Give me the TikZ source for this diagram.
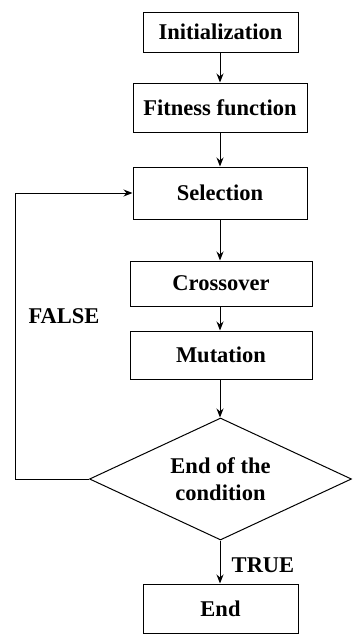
\documentclass[tikz,border=0pt]{standalone}
\usepackage{fontspec}
\setmainfont{Liberation Serif}
\usetikzlibrary{shapes.geometric,arrows.meta}
\begin{document}
\begin{tikzpicture}[x=1pt,y=-1pt,
  box/.style={draw,line width=1pt,rectangle,inner sep=0pt,font=\bfseries\fontsize{22.5}{27}\selectfont},
  cond/.style={draw,line width=1pt,diamond,aspect=2,inner sep=0pt,align=center,font=\bfseries\fontsize{22.5}{27}\selectfont},
  lbl/.style={inner sep=0pt,font=\bfseries\fontsize{22.5}{27}\selectfont},
  arr/.style={line width=1pt,-{Stealth[length=9pt,width=7pt]}}]
\useasboundingbox (0,0) rectangle (360,640);
\node[box,minimum width=155,minimum height=40] (init) at (220.5,32) {Initialization};
\node[box,minimum width=174,minimum height=49] (fit) at (220,107.5) {Fitness function};
\node[box,minimum width=174,minimum height=52] (sel) at (220,193) {Selection};
\node[box,minimum width=182,minimum height=45] (cross) at (221,283.5) {Crossover};
\node[box,minimum width=182,minimum height=48] (mut) at (221,355) {Mutation};
\node[cond,minimum width=262,minimum height=122] (dia) at (220.5,479) {End of the\\condition};
\node[box,minimum width=155,minimum height=49] (end) at (220.5,608.5) {End};
\node[lbl] (false) at (64,316) {FALSE};
\node[lbl] (true) at (263,565) {TRUE};
\coordinate (lp) at (15,479);
\draw[arr] (init.south -| 220,0) -- (fit.north -| 220,0);
\draw[arr] (fit.south -| 220,0) -- (sel.north -| 220,0);
\draw[arr] (sel.south -| 220,0) -- (cross.north -| 220,0);
\draw[arr] (cross.south -| 220,0) -- (mut.north -| 220,0);
\draw[arr] (mut.south -| 220,0) -- (dia.north -| 220,0);
\draw[arr] (dia.south -| 220,0) -- (end.north -| 220,0);
\draw[arr] (dia.west) -- (lp) |- (sel.west);
\end{tikzpicture}
\end{document}
